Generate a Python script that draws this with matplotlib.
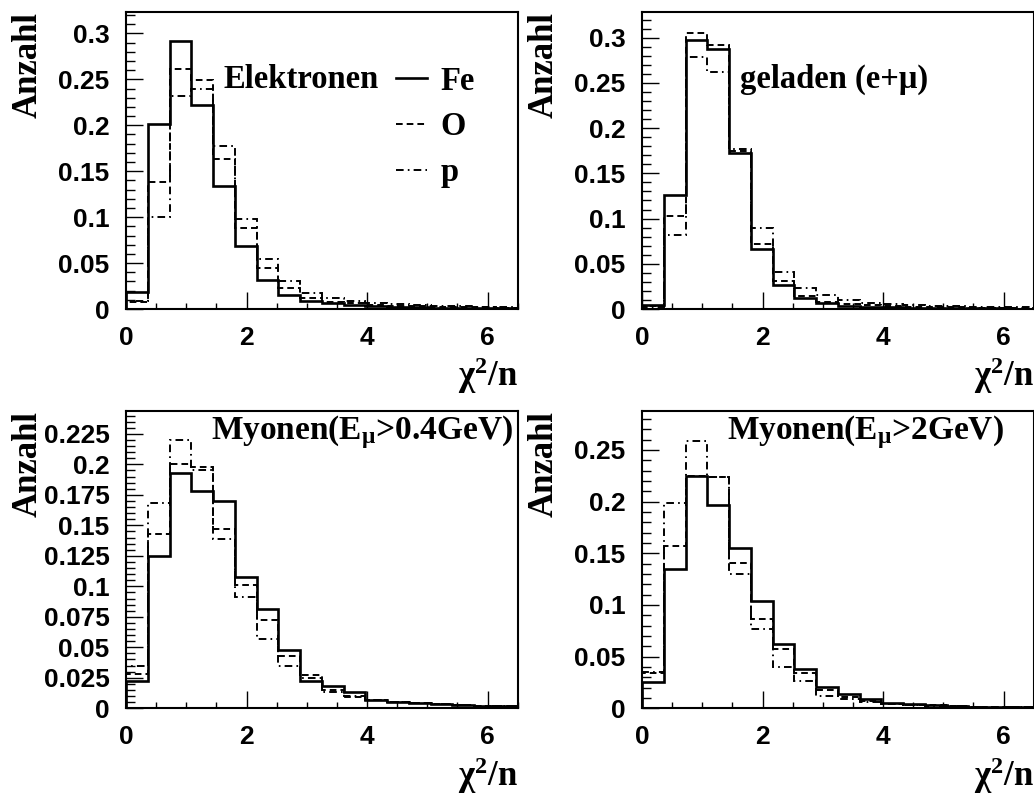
import matplotlib
matplotlib.use("Agg")
import matplotlib.pyplot as plt
import numpy as np
from matplotlib.ticker import MultipleLocator

# Binning of chi^2/n histograms
X_MIN, X_MAX, N_BINS = 0.0, 6.5, 18

# Elektronen
fe_el = [0.019, 0.201, 0.292, 0.222, 0.134, 0.069, 0.032, 0.015, 0.009, 0.006,
         0.0044, 0.0033, 0.0025, 0.002, 0.0015, 0.0012, 0.001, 0.0008]
o_el = [0.008, 0.138, 0.261, 0.249, 0.163, 0.0885, 0.045, 0.023, 0.012, 0.008,
        0.006, 0.0045, 0.0035, 0.003, 0.0025, 0.002, 0.002, 0.0015]
p_el = [0.009, 0.100, 0.232, 0.240, 0.178, 0.098, 0.054, 0.031, 0.017, 0.012,
        0.009, 0.007, 0.005, 0.004, 0.0035, 0.003, 0.0025, 0.002]

# geladen (e+mu)
fe_ch = [0.004, 0.126, 0.297, 0.287, 0.173, 0.066, 0.027, 0.012, 0.0063, 0.0033,
         0.0025, 0.002, 0.0015, 0.0012, 0.001, 0.0008, 0.0006, 0.0005]
o_ch = [0.003, 0.103, 0.305, 0.292, 0.175, 0.072, 0.031, 0.0144, 0.008, 0.005,
        0.004, 0.003, 0.0025, 0.002, 0.002, 0.0015, 0.0015, 0.001]
p_ch = [0.002, 0.082, 0.279, 0.262, 0.177, 0.090, 0.041, 0.0236, 0.0155, 0.010,
        0.007, 0.005, 0.004, 0.0035, 0.003, 0.0025, 0.002, 0.002]

# Myonen E > 0.4 GeV
fe_mu04 = [0.022, 0.125, 0.193, 0.178, 0.170, 0.108, 0.081, 0.048, 0.022, 0.0185,
           0.0135, 0.0068, 0.0054, 0.0046, 0.0035, 0.0027, 0.002, 0.0015]
o_mu04 = [0.028, 0.143, 0.200, 0.198, 0.147, 0.101, 0.072, 0.043, 0.027, 0.015,
          0.009, 0.0065, 0.005, 0.0043, 0.0035, 0.003, 0.002, 0.0015]
p_mu04 = [0.035, 0.168, 0.220, 0.195, 0.139, 0.091, 0.057, 0.035, 0.025, 0.013,
          0.010, 0.007, 0.0055, 0.0045, 0.0035, 0.003, 0.002, 0.0015]

# Myonen E > 2 GeV
fe_mu2 = [0.025, 0.135, 0.225, 0.197, 0.155, 0.104, 0.062, 0.038, 0.021, 0.014,
          0.009, 0.005, 0.004, 0.0032, 0.002, 0.0015, 0.001, 0.0008]
o_mu2 = [0.034, 0.157, 0.225, 0.224, 0.141, 0.086, 0.057, 0.034, 0.018, 0.011,
         0.007, 0.004, 0.0035, 0.003, 0.002, 0.0015, 0.001, 0.0008]
p_mu2 = [0.035, 0.199, 0.259, 0.224, 0.130, 0.077, 0.040, 0.026, 0.012, 0.009,
         0.006, 0.004, 0.003, 0.0025, 0.002, 0.0015, 0.001, 0.0008]

labels = ["Fe", "O", "p"]
titles = ["Elektronen", "geladen (e+\u03bc)",
          "Myonen(E$_{\\mathrm{\u03bc}}$>0.4GeV)", "Myonen(E$_{\\mathrm{\u03bc}}$>2GeV)"]
y_max = [0.323, 0.328, 0.244, 0.288]
y_major = [0.05, 0.05, 0.025, 0.05]

plt.rcParams["lines.scale_dashes"] = False
plt.rcParams["mathtext.fontset"] = "custom"
plt.rcParams["mathtext.rm"] = "Liberation Serif:bold"
plt.rcParams["mathtext.it"] = "Liberation Serif:bold"
plt.rcParams["mathtext.bf"] = "Liberation Serif:bold"
plt.rcParams["mathtext.sf"] = "Liberation Serif:bold"

SERIF = dict(family="Liberation Serif", weight="bold")
STYLES = [dict(linestyle="-", linewidth=1.9),
          dict(linestyle=(0, (4.8, 2.9)), linewidth=1.4),
          dict(linestyle=(0, (5.5, 3.0, 1.2, 3.0)), linewidth=1.4)]

fig = plt.figure(figsize=(10.34, 7.96), dpi=100)
positions = [[0.1219, 0.6118, 0.3788, 0.3727],
             [0.6209, 0.6118, 0.3788, 0.3727],
             [0.1219, 0.1102, 0.3788, 0.3739],
             [0.6209, 0.1102, 0.3788, 0.3739]]
data = [(fe_el, o_el, p_el), (fe_ch, o_ch, p_ch),
        (fe_mu04, o_mu04, p_mu04), (fe_mu2, o_mu2, p_mu2)]
edges = np.linspace(X_MIN, X_MAX, N_BINS + 1)

for k, (pos, series) in enumerate(zip(positions, data)):
    ax = fig.add_axes(pos)
    handles = []
    for vals, st in zip(series, STYLES):
        h = ax.stairs(vals, edges, color="black", **st)
        handles.append(h)
    ax.set_xlim(X_MIN, X_MAX)
    ax.set_ylim(0, y_max[k])
    ax.xaxis.set_major_locator(MultipleLocator(2))
    ax.xaxis.set_minor_locator(MultipleLocator(0.5))
    ax.yaxis.set_major_locator(MultipleLocator(y_major[k]))
    ax.yaxis.set_minor_locator(MultipleLocator(y_major[k] / 5))
    ax.yaxis.set_major_formatter(matplotlib.ticker.FuncFormatter(lambda v, _: f"{v:g}"))
    ax.tick_params(which="both", direction="in", top=False, right=False, width=1)
    ax.tick_params(axis="y", which="major", length=12, pad=12)
    ax.tick_params(axis="y", which="minor", length=6.5)
    ax.tick_params(axis="x", which="major", length=12, pad=12)
    ax.tick_params(axis="x", which="minor", length=4)
    for lab in ax.get_xticklabels() + ax.get_yticklabels():
        lab.set_fontfamily("Liberation Sans")
        lab.set_fontweight("bold")
        lab.set_fontsize(19)
    for sp in ax.spines.values():
        sp.set_linewidth(1.5)

    ax.text(-0.293, 1.0, "Anzahl", rotation=90, ha="left", va="top",
            transform=ax.transAxes, fontsize=25, **SERIF)
    ax.text(1.0, -0.26, "\u03c7$^{2}$/n", ha="right", va="baseline",
            transform=ax.transAxes, fontsize=25, **SERIF)

    if k == 0:
        ax.text(0.248, 0.745, titles[k], ha="left", va="baseline",
                transform=ax.transAxes, fontsize=23.5, **SERIF)
        ax.legend(handles, labels, loc="upper left", bbox_to_anchor=(0.69, 0.82),
                  frameon=False, borderpad=0, borderaxespad=0, handlelength=0.95,
                  handletextpad=0.4, labelspacing=0.45,
                  prop=dict(family="Liberation Serif", weight="bold", size=23.5))
    elif k == 1:
        ax.text(0.251, 0.745, titles[k], ha="left", va="baseline",
                transform=ax.transAxes, fontsize=23.5, **SERIF)
    else:
        ax.text(0.216, 0.905, titles[k], ha="left", va="baseline",
                transform=ax.transAxes, fontsize=24, **SERIF)

fig.savefig("out.png", dpi=100)
